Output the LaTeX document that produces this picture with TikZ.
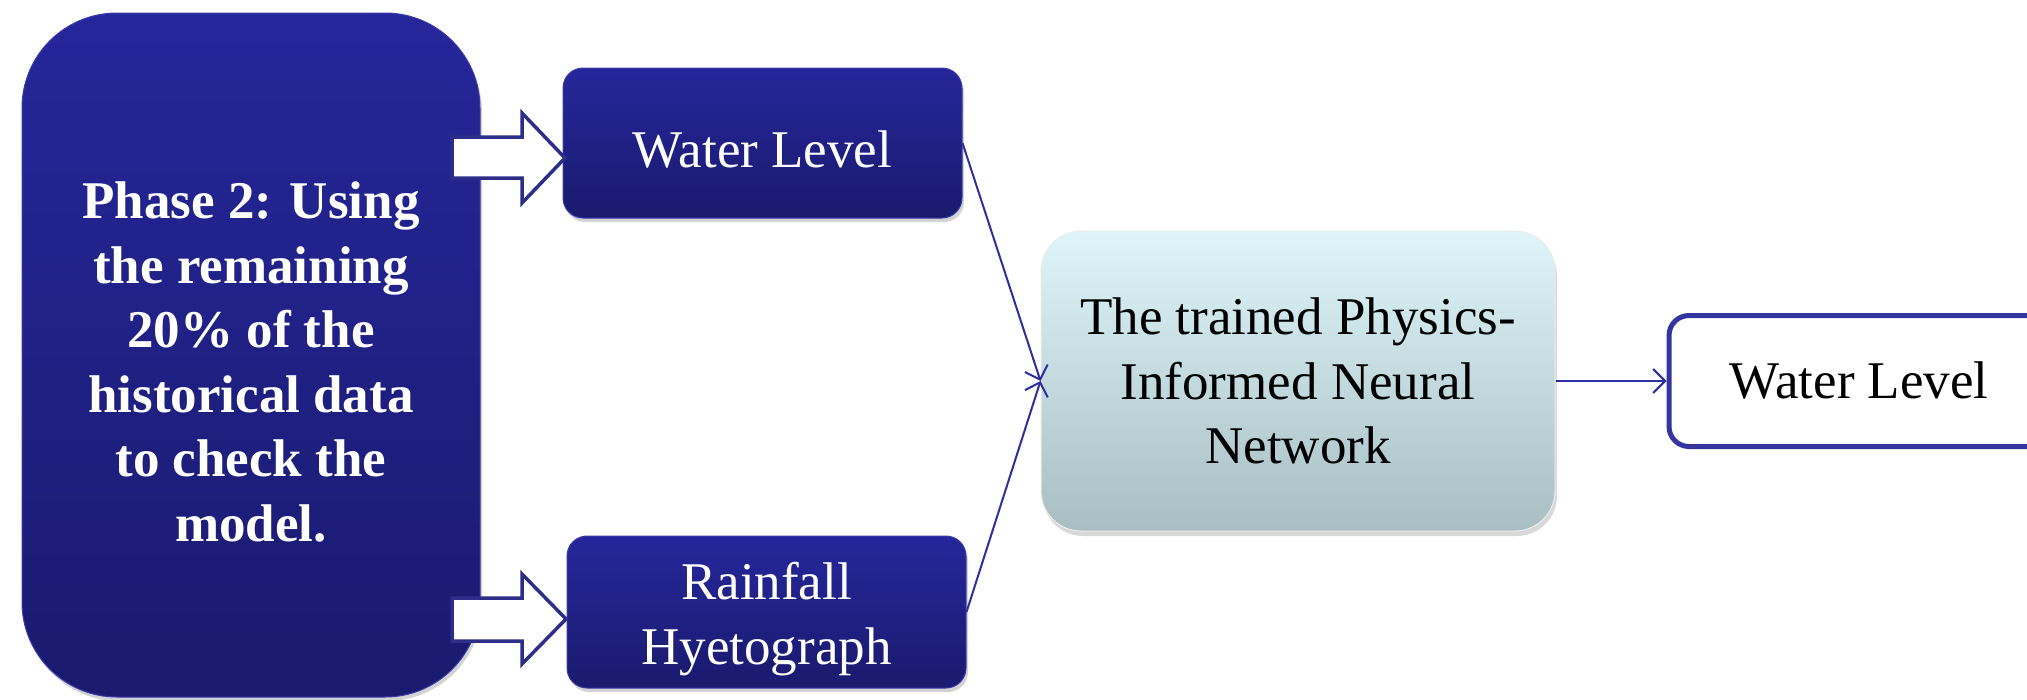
\documentclass[tikz,border=0pt]{standalone}
\usepackage{fontspec}
\setmainfont{Liberation Serif}
\usetikzlibrary{arrows.meta,shadows}
\definecolor{navytop}{RGB}{38,38,155}
\definecolor{navybot}{RGB}{26,26,110}
\definecolor{navyedge}{RGB}{58,58,172}
\definecolor{lineblue}{RGB}{46,46,160}
\definecolor{arrowedge}{RGB}{45,45,138}
\definecolor{cyantop}{RGB}{222,245,250}
\definecolor{cyanbot}{RGB}{168,190,195}
\definecolor{outedge}{RGB}{53,53,160}
\begin{document}
\begin{tikzpicture}[x=1pt,y=-1pt,
  txt/.style={font=\fontsize{53}{64.5}\selectfont, align=center, inner sep=0pt},
  navybox/.style={rectangle, rounded corners=20pt, top color=navytop, bottom color=navybot,
    draw=navyedge, line width=1pt, inner sep=0pt,
    drop shadow={shadow xshift=2pt, shadow yshift=-4pt, opacity=0.35}},
  navytext/.style={txt, text=white},
  cyanbox/.style={txt, rectangle, rounded corners=40pt, top color=cyantop, bottom color=cyanbot,
    draw=white!85!gray, line width=1pt, text=black,
    drop shadow={shadow xshift=2pt, shadow yshift=-5pt, opacity=0.3}},
  outbox/.style={txt, rectangle, rounded corners=20pt, fill=white, draw=outedge, line width=5pt, text=black},
  blockarrow/.style={fill=white, draw=arrowedge, line width=3.5pt, line join=miter},
  conn/.style={draw=lineblue, line width=2pt, -{Straight Barb[length=12pt,width=24pt]}}
]
\useasboundingbox (0,0) rectangle (2027,699);

% main phase box
\node[navybox, rounded corners=95pt, minimum width=458pt, minimum height=684pt] (phase) at (251,355) {};
\node[navytext, font=\fontsize{53}{64.5}\selectfont\bfseries] (phasetxt) at ([yshift=-7pt]phase.center)
  {Phase 2: Using\\the remaining\\20\% of the\\historical data\\to check the\\model.};

% input boxes
\node[navybox, minimum width=399pt, minimum height=150pt] (wl1) at (762.5,143) {};
\node[navytext] (wl1txt) at ([yshift=-7pt]wl1.center) {Water Level};
\node[navybox, minimum width=399pt, minimum height=152pt] (rain) at (766.5,612) {};
\node[navytext] (raintxt) at ([yshift=-7pt]rain.center) {Rainfall\\Hyetograph};

% block arrows
\draw[blockarrow] (452,137) -- (522,137) -- (522,113) -- (565,158) -- (522,203) -- (522,178) -- (452,178) -- cycle;
\draw[blockarrow] (452,598) -- (522,598) -- (522,574) -- (566,619) -- (522,664) -- (522,641) -- (452,641) -- cycle;

% network box
\node[cyanbox, minimum width=514pt, minimum height=300pt] (pinn) at (1298,381)
  {The trained Physics-\\Informed Neural\\Network};

% output box
\node[outbox, minimum width=380pt, minimum height=131pt] (out) at (1859,381) {Water Level};

% connectors
\draw[conn] (wl1.east) -- (pinn.west);
\draw[conn] (rain.east) -- (pinn.west);
\draw[conn] (pinn.east) -- (out.west);
\end{tikzpicture}
\end{document}
